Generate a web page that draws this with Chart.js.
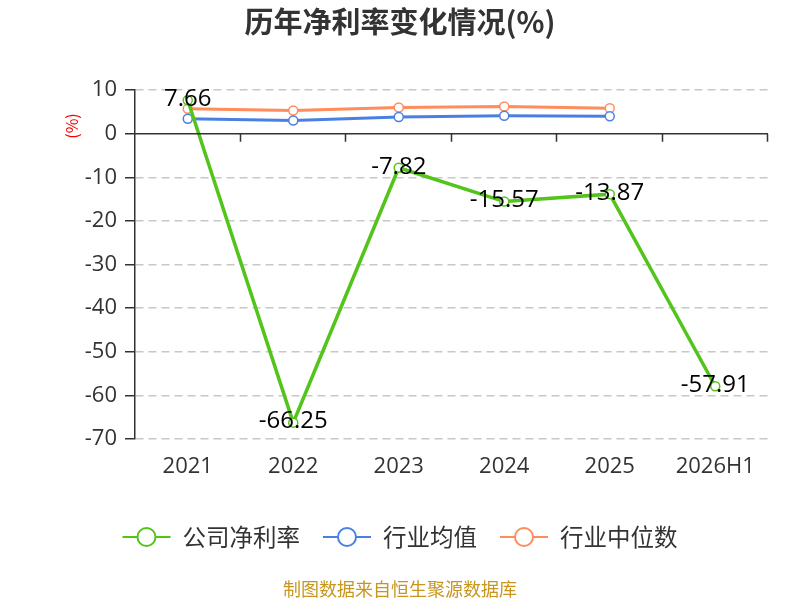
<!doctype html>
<html lang="zh">
<head>
    <meta charset="utf-8" />
    <title>历年净利率变化情况</title>
    <script src="https://cdn.jsdelivr.net/npm/chart.js@4.4.1/dist/chart.umd.min.js"></script>
    <style>
        html, body { margin: 0; padding: 0; background: #fff; }
        #wrap { width: 800px; height: 600px; }
    </style>
</head>
<body>
    <div id="wrap">
        <canvas id="myChart" width="800" height="600"></canvas>
    </div>
    <script>
        const categories = ['2021', '2022', '2023', '2024', '2025', '2026H1'];
        const companyRate = [7.66, -66.25, -7.82, -15.57, -13.87, -57.91];
        const industryMean = [3.4, 3.0, 3.8, 4.1, 4.0, null];
        const industryMedian = [5.7, 5.3, 6.0, 6.2, 5.8, null];
        const seriesNames = ['公司净利率', '行业均值', '行业中位数'];
        const seriesColors = ['#52c41a', '#4a80e3', '#ff8c5a'];

        const FONT = '"Noto Sans CJK SC", "Noto Sans", sans-serif';
        const NUM_FONT = '"Open Sans", "Noto Sans CJK SC", sans-serif';

        // title, legend, footer, zero axis, labels drawn by hand
        const overlay = {
            id: 'overlay',
            afterDatasetsDraw(chart) {
                const ctx = chart.ctx;
                const area = chart.chartArea;
                const xs = chart.scales.x;
                const ys = chart.scales.y;
                ctx.save();

                // zero line with category ticks
                const y0 = ys.getPixelForValue(0);
                ctx.strokeStyle = '#333';
                ctx.lineWidth = 1.5;
                ctx.beginPath();
                ctx.moveTo(area.left, y0);
                ctx.lineTo(area.right, y0);
                const step = (area.right - area.left) / categories.length;
                for (let i = 1; i <= categories.length; i++) {
                    const x = Math.round(area.left + step * i) - 0.5;
                    ctx.moveTo(x, y0);
                    ctx.lineTo(x, y0 + 8);
                }
                ctx.stroke();

                // data labels for company series
                ctx.fillStyle = '#000';
                ctx.font = '24px ' + NUM_FONT;
                ctx.textAlign = 'center';
                ctx.textBaseline = 'middle';
                companyRate.forEach((v, i) => {
                    const px = xs.getPixelForValue(i);
                    const py = ys.getPixelForValue(v);
                    ctx.fillText(v.toFixed(2), px, py - 1);
                });

                // y axis title
                ctx.save();
                ctx.translate(72, 126);
                ctx.rotate(-Math.PI / 2);
                ctx.fillStyle = '#ff0000';
                ctx.font = '16px ' + FONT;
                ctx.fillText('(%)', 0, 0);
                ctx.restore();

                // title
                ctx.fillStyle = '#333';
                ctx.font = 'bold 29px ' + FONT;
                ctx.fillText('历年净利率变化情况(%)', 400, 22);

                // legend
                ctx.font = '23.5px ' + FONT;
                const symW = 48, gap = 12, itemGap = 23;
                const widths = seriesNames.map(n => symW + gap + ctx.measureText(n).width);
                let lx = 400 - (widths.reduce((a, b) => a + b, 0) + itemGap * (widths.length - 1)) / 2;
                const ly = 537;
                seriesNames.forEach((name, i) => {
                    ctx.strokeStyle = seriesColors[i];
                    ctx.lineWidth = 2;
                    ctx.beginPath();
                    ctx.moveTo(lx, ly);
                    ctx.lineTo(lx + symW, ly);
                    ctx.stroke();
                    ctx.beginPath();
                    ctx.arc(lx + symW / 2, ly, 9, 0, Math.PI * 2);
                    ctx.fillStyle = '#fff';
                    ctx.fill();
                    ctx.stroke();
                    ctx.fillStyle = '#333';
                    ctx.textAlign = 'left';
                    ctx.fillText(name, lx + symW + gap, ly);
                    lx += widths[i] + itemGap;
                });

                // footer
                ctx.textAlign = 'center';
                ctx.fillStyle = '#c8961e';
                ctx.font = '18px ' + FONT;
                ctx.fillText('制图数据来自恒生聚源数据库', 400, 589);

                ctx.restore();
            }
        };

        const data = [companyRate, industryMean, industryMedian];
        const datasets = seriesNames.map((name, i) => ({
            label: name,
            data: data[i],
            borderColor: seriesColors[i],
            backgroundColor: '#fff',
            pointBackgroundColor: '#fff',
            pointBorderColor: seriesColors[i],
            pointBorderWidth: 1.5,
            pointRadius: 4.5,
            borderWidth: i === 0 ? 3.5 : 3,
            tension: 0,
            spanGaps: false
        }));

        const ctx = document.getElementById('myChart').getContext('2d');
        const myChart = new Chart(ctx, {
            type: 'line',
            data: {
                labels: categories,
                datasets: datasets
            },
            plugins: [overlay],
            options: {
                responsive: false,
                animation: false,
                layout: {
                    padding: { top: 90, left: 0, right: 32, bottom: 121 }
                },
                plugins: {
                    legend: { display: false },
                    title: { display: false },
                    tooltip: { enabled: false }
                },
                scales: {
                    x: {
                        offset: true,
                        grid: { display: false, drawTicks: false },
                        border: { display: false },
                        ticks: {
                            color: '#333',
                            padding: 15,
                            font: { size: 22, family: NUM_FONT }
                        },
                        afterFit: scale => { scale.height = 40; }
                    },
                    y: {
                        min: -70,
                        max: 10,
                        ticks: {
                            stepSize: 10,
                            color: '#333',
                            padding: 8,
                            font: { size: 22, family: NUM_FONT }
                        },
                        grid: {
                            color: c => (c.tick && c.tick.value === 0) ? 'rgba(0,0,0,0)' : '#c8c8c8',
                            lineWidth: 1.5,
                            tickColor: '#333',
                            tickLength: 10,
                            tickBorderDash: [],
                            tickWidth: 1.5
                        },
                        border: {
                            display: true,
                            color: '#333',
                            width: 1.5,
                            dash: [8, 5]
                        },
                        afterFit: scale => { scale.width = 135; }
                    }
                }
            }
        });
    </script>
</body>
</html>
